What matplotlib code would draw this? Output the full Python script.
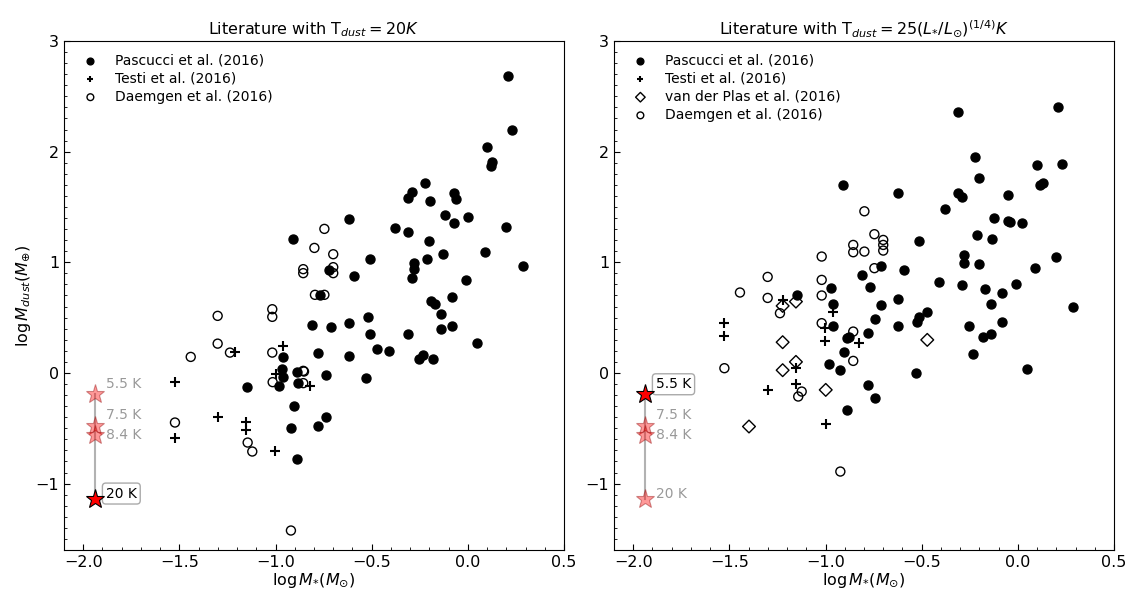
import numpy as np
import matplotlib
matplotlib.use("Agg")
import matplotlib.pyplot as plt
from matplotlib.ticker import MultipleLocator

# ---- left panel: Tdust = 20 K ----
pas_l_x = [0.210, 0.230, 0.101, 0.127, 0.119, -0.221, -0.289, -0.311, -0.198, -0.072,
           -0.062, -0.120, -0.001, -0.070, -0.620, -0.380, -0.311, 0.200, -0.200, -0.131,
           0.091, -0.510, -0.211, -0.280, -0.280, -0.289, -0.590, 0.288, -0.010, -0.081,
           -0.193, -0.171, -0.140, -0.810, -0.710, -0.620, -0.521, -0.510, -0.311, -0.140,
           -0.081, 0.049, -0.779, -0.620, -0.471, -0.412, -0.252, -0.232, -0.181, -0.739,
           -0.530, -0.739, -0.779, -0.890, -0.911, -0.720, -0.770, -0.960, -1.150, -0.968,
           -0.960, -0.980, -0.890, -0.885, -0.904, -0.920]
pas_l_y = [2.687, 2.193, 2.040, 1.904, 1.871, 1.714, 1.639, 1.579, 1.555, 1.624,
           1.570, 1.425, 1.413, 1.359, 1.389, 1.311, 1.277, 1.317, 1.191, 1.076,
           1.091, 1.034, 1.028, 0.998, 0.938, 0.862, 0.874, 0.965, 0.841, 0.690,
           0.654, 0.627, 0.534, 0.434, 0.413, 0.449, 0.504, 0.350, 0.353, 0.398,
           0.428, 0.269, 0.184, 0.157, 0.215, 0.200, 0.125, 0.164, 0.130, -0.017,
           -0.050, -0.400, -0.478, -0.776, 1.209, 0.930, 0.706, 0.140, -0.123, 0.034,
           -0.033, -0.117, 0.007, -0.092, -0.297, -0.493]

tes_l_x = [-0.960, -1.211, -1.523, -1.301, -1.154, -1.154, -1.523, -1.003, -0.998, -0.821]
tes_l_y = [0.245, 0.190, -0.083, -0.394, -0.439, -0.520, -0.589, -0.701, -0.011, -0.117]

dae_l_x = [-0.746, -0.798, -0.700, -0.856, -0.856, -0.700, -0.700, -0.795, -0.746, -0.856,
           -0.856, -1.301, -1.017, -1.017, -1.301, -1.237, -1.017, -1.441, -1.015, -0.852,
           -1.523, -1.145, -1.121, -0.920]
dae_l_y = [1.302, 1.130, 1.073, 0.938, 0.902, 0.956, 0.902, 0.706, 0.706, 0.019,
           -0.092, 0.516, 0.576, 0.507, 0.265, 0.184, 0.184, 0.145, -0.083, 0.013,
           -0.448, -0.629, -0.710, -1.424]

# ---- right panel: Tdust = 25 (L*/Lsun)^(1/4) K ----
pas_r_x = [-0.911, -0.972, -0.810, -0.770, -1.150, -0.960, -0.960, -0.890, -0.880, -0.781,
           -0.741, -0.712, -0.902, -0.982, -0.923, -0.781, -0.741, -0.890, -0.311, 0.209,
           -0.223, 0.098, 0.228, -0.202, 0.115, 0.129, -0.622, -0.313, -0.291, -0.053,
           -0.381, -0.122, -0.053, -0.039, 0.019, -0.512, -0.212, -0.133, -0.278, -0.278,
           -0.202, 0.198, 0.089, -0.712, -0.592, -0.412, -0.291, -0.171, -0.081, -0.011,
           -0.141, 0.288, -0.622, -0.622, -0.512, -0.523, -0.471, -0.252, -0.081, -0.180,
           -0.141, -0.232, -0.532, 0.049]
pas_r_y = [1.702, 0.772, 0.883, 0.781, 0.706, 0.621, 0.420, 0.314, 0.329, 0.365,
           0.491, 0.615, 0.188, 0.082, 0.025, -0.105, -0.228, -0.333, 2.361, 2.407,
           1.955, 1.880, 1.889, 1.762, 1.699, 1.714, 1.630, 1.630, 1.594, 1.609,
           1.480, 1.401, 1.371, 1.368, 1.353, 1.193, 1.250, 1.214, 1.064, 0.998,
           0.983, 1.046, 0.952, 0.967, 0.931, 0.823, 0.796, 0.763, 0.727, 0.805,
           0.624, 0.600, 0.672, 0.420, 0.510, 0.464, 0.549, 0.420, 0.459, 0.329,
           0.353, 0.170, 0.004, 0.037]

tes_r_x = [-1.223, -0.960, -1.003, -1.526, -1.526, -1.003, -0.826, -1.154, -1.154, -1.301, -0.999]
tes_r_y = [0.660, 0.549, 0.405, 0.453, 0.338, 0.290, 0.269, 0.043, -0.101, -0.153, -0.460]

vdp_r_x = [-1.223, -1.154, -1.223, -1.154, -1.223, -0.999, -1.398, -0.471]
vdp_r_y = [0.606, 0.645, 0.278, 0.100, 0.025, -0.153, -0.484, 0.299]

dae_r_x = [-0.798, -0.746, -0.856, -0.856, -0.798, -1.020, -1.301, -1.445, -1.301, -1.020,
           -1.020, -1.237, -1.020, -1.526, -0.856, -0.856, -1.124, -1.142, -0.923, -0.700,
           -0.700, -0.700, -0.746]
dae_r_y = [1.461, 1.254, 1.157, 1.091, 1.097, 1.052, 0.868, 0.727, 0.678, 0.841,
           0.700, 0.540, 0.450, 0.043, 0.374, 0.109, -0.168, -0.213, -0.891, 1.202,
           1.157, 1.106, 0.947]

# temperature stars
star_x = -1.94
star_T = ["5.5 K", "7.5 K", "8.4 K", "20 K"]
star_y = [-0.19, -0.48, -0.56, -1.14]
label_off = [(8, 7), (8, 8), (8, 0), (8, 4)]


def draw_stars(ax, active):
    ax.plot([star_x, star_x], [min(star_y), max(star_y)], color="gray", lw=1.5, alpha=0.6, zorder=1)
    for i, (t, y) in enumerate(zip(star_T, star_y)):
        if i == active:
            ax.plot(star_x, y, marker="*", ms=14, mfc="red", mec="black", mew=0.8, zorder=5)
            ax.annotate(t, (star_x, y), xytext=label_off[i], textcoords="offset points",
                        fontsize=10, va="center", ha="left",
                        bbox=dict(boxstyle="round,pad=0.25", fc="white", ec="#aaaaaa"))
        else:
            ax.plot(star_x, y, marker="*", ms=14, mfc="red", mec="darkred", mew=0.8,
                    alpha=0.4, zorder=4)
            ax.annotate(t, (star_x, y), xytext=label_off[i], textcoords="offset points",
                        fontsize=10, va="center", ha="left", color="black", alpha=0.4)


def style(ax):
    ax.set_xlim(-2.1, 0.5)
    ax.set_ylim(-1.6, 3)
    ax.set_yticks([-1, 0, 1, 2, 3])
    ax.xaxis.set_minor_locator(MultipleLocator(0.1))
    ax.yaxis.set_minor_locator(MultipleLocator(0.1))
    ax.tick_params(which="both", direction="in", top=False, right=False, labelsize=11.5)
    ax.tick_params(which="major", length=4)
    ax.tick_params(which="minor", length=2)
    ax.set_xlabel(r"$\log M_{*} (M_{\odot})$", fontsize=11.5, labelpad=1)
    ax.legend(loc="upper left", frameon=False, fontsize=10, scatterpoints=1,
              markerscale=0.75, labelspacing=0.3)


fig = plt.figure(figsize=(11.4, 5.99), dpi=100)
ax1 = fig.add_axes([64 / 1140, 49 / 599, 500 / 1140, 509 / 599])
ax2 = fig.add_axes([614 / 1140, 49 / 599, 500 / 1140, 509 / 599])

ms = 42
ax1.scatter(pas_l_x, pas_l_y, s=ms, c="black", marker="o", label="Pascucci et al. (2016)", zorder=3)
ax1.scatter(tes_l_x, tes_l_y, s=ms, c="black", marker="+", label="Testi et al. (2016)", zorder=3)
ax1.scatter(dae_l_x, dae_l_y, s=ms, facecolors="none", edgecolors="black", marker="o",
            label="Daemgen et al. (2016)", zorder=3)
draw_stars(ax1, 3)
style(ax1)
ax1.set_ylabel(r"$\log M_{dust} (M_{\oplus})$", fontsize=11.5, labelpad=2)
ax1.set_title(r"Literature with T$_{dust} = 20K$", fontsize=11.5, pad=5)

ax2.scatter(pas_r_x, pas_r_y, s=ms, c="black", marker="o", label="Pascucci et al. (2016)", zorder=3)
ax2.scatter(tes_r_x, tes_r_y, s=ms, c="black", marker="+", label="Testi et al. (2016)", zorder=3)
ax2.scatter(vdp_r_x, vdp_r_y, s=ms, facecolors="none", edgecolors="black", marker="D",
            label="van der Plas et al. (2016)", zorder=3)
ax2.scatter(dae_r_x, dae_r_y, s=ms, facecolors="none", edgecolors="black", marker="o",
            label="Daemgen et al. (2016)", zorder=3)
draw_stars(ax2, 0)
style(ax2)
ax2.set_title(r"Literature with T$_{dust} = 25(L_{*}/L_{\odot})^{(1/4)}K$", fontsize=11.5, pad=5)

fig.savefig("out.png", dpi=100)
